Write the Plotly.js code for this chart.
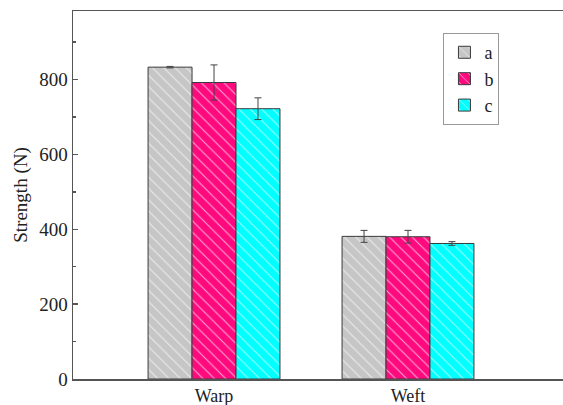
<!DOCTYPE html>
<html>
<head>
<meta charset="utf-8">
<script src="https://cdn.plot.ly/plotly-3.0.1.min.js"></script>
<style>html,body{margin:0;padding:0;background:#fff;}#chart{width:563px;height:405px;}</style>
</head>
<body>
<div id="chart"></div>
<script>
var categories = ["Warp", "Weft"];
var seriesNames = ["a", "b", "c"];
var valuesA = [833, 381];
var valuesB = [792, 380];
var valuesC = [722, 362];
var errA = [2, 16];
var errB = [47, 17];
var errC = [29, 5];
var yTickVals = [0, 200, 400, 600, 800];

var colors = ["#c6c6c6", "#ff0a7e", "#00ffff"];
var vals = [valuesA, valuesB, valuesC];
var errs = [errA, errB, errC];

var traces = seriesNames.map(function(n, i) {
  return {
    type: "bar",
    name: n,
    x: categories,
    y: vals[i],
    error_y: {type: "data", array: errs[i], visible: true, color: "#444", thickness: 1, width: 3.5},
    marker: {
      color: colors[i],
      line: {color: "#3a3a3a", width: 1},
      pattern: {shape: "\\", bgcolor: colors[i], fgcolor: "#ffffff", fgopacity: 0.65, size: 8, solidity: 0.13}
    }
  };
});

var serif = "Liberation Serif, Times New Roman, serif";
var layout = {
  width: 563, height: 405,
  margin: {l: 73, r: 0, t: 11, b: 26},
  paper_bgcolor: "#fff", plot_bgcolor: "#fff",
  barmode: "group", bargap: 0.32, bargroupgap: 0,
  font: {family: serif, size: 19, color: "#222"},
  xaxis: {
    type: "category", range: [-0.727, 1.799],
    showline: true, linecolor: "#555", linewidth: 1.5, mirror: true,
    ticks: "", showgrid: false, zeroline: false,
    tickfont: {family: serif, size: 18, color: "#222"}
  },
  yaxis: {
    range: [0, 983], tickvals: yTickVals,
    showline: true, linecolor: "#555", linewidth: 1.5,
    ticks: "inside", ticklen: 5, tickcolor: "#555", tickwidth: 1.5,
    minor: {dtick: 100, ticks: "inside", ticklen: 3, tickcolor: "#555", tickwidth: 1.5},
    showgrid: false, zeroline: false,
    tickfont: {family: serif, size: 19, color: "#222"},
    title: {text: "Strength (N)", font: {family: serif, size: 19, color: "#222"}, standoff: 6}
  },
  legend: {
    x: 0.756, y: 0.94, xanchor: "left", yanchor: "top",
    bgcolor: "#fff", bordercolor: "#999", borderwidth: 1,
    font: {family: serif, size: 18, color: "#222"},
    tracegroupgap: 0, itemwidth: 30
  },
  showlegend: true
};

Plotly.newPlot("chart", traces, layout, {staticPlot: true, displayModeBar: false});
</script>
</body>
</html>
